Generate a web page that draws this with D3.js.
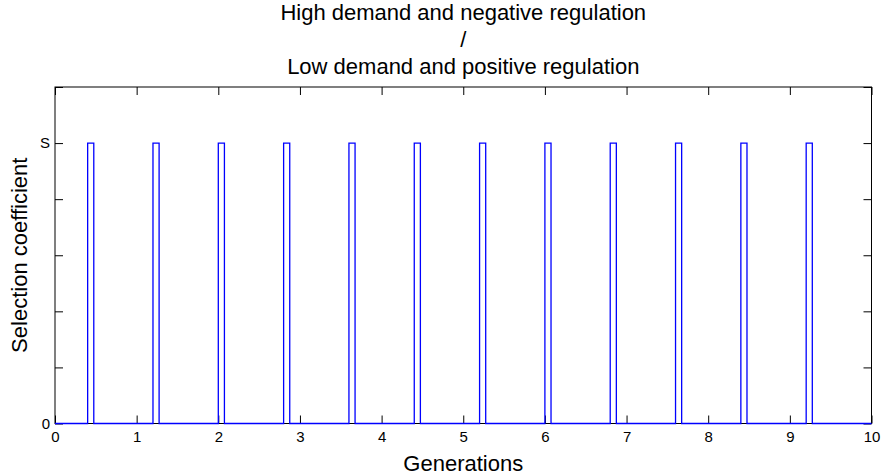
<!DOCTYPE html>
<html>
<head>
<meta charset="utf-8">
<script src="https://cdn.jsdelivr.net/npm/d3@7"></script>
<style>
  body { margin: 0; background: #fff; }
  svg { display: block; font-family: "Liberation Sans", Arial, sans-serif; }
  .axis path, .axis line { stroke: #000; }
  .axis text { font-size: 15px; fill: #000; }
</style>
</head>
<body>
<div id="chart"></div>
<script>
(function () {
  // pulse windows (generations) where selection coefficient = s
  let pulseStart = [0.40, 1.20, 2.00, 2.80, 3.60, 4.40, 5.20, 6.00, 6.80, 7.60, 8.40, 9.20];
  let pulseEnd = [0.475, 1.275, 2.075, 2.875, 3.675, 4.475, 5.275, 6.075, 6.875, 7.675, 8.475, 9.275];

  let xTicks = [0, 1, 2, 3, 4, 5, 6, 7, 8, 9, 10];
  let yTicks = [0, 0.2, 0.4, 0.6, 0.8, 1.0, 1.2];
  let yTickLabels = ['0', '', '', '', '', 'S', ''];

  let titleLines = [
    'High demand and negative regulation',
    '/',
    'Low demand and positive regulation'
  ];

  let W = 882, H = 476;
  let margin = { top: 87, right: 10.5, bottom: 52.5, left: 55 };
  let width = W - margin.left - margin.right;
  let height = H - margin.top - margin.bottom;

  let x = d3.scaleLinear().domain([0, 10]).range([0, width]);
  let y = d3.scaleLinear().domain([0, 1.2]).range([height, 0]);

  let svg = d3.select('#chart').append('svg')
    .attr('width', W)
    .attr('height', H);

  let g = svg.append('g')
    .attr('transform', `translate(${margin.left}, ${margin.top})`);

  // box
  g.append('rect')
    .attr('width', width)
    .attr('height', height)
    .attr('fill', 'none')
    .attr('stroke', '#000');

  let tickLen = 8;

  g.append('g').attr('class', 'axis')
    .attr('transform', `translate(0, ${height})`)
    .call(d3.axisBottom(x).tickValues(xTicks).tickSize(-tickLen).tickPadding(8).tickSizeOuter(0));

  g.append('g').attr('class', 'axis')
    .call(d3.axisTop(x).tickValues(xTicks).tickSize(-tickLen).tickFormat('').tickSizeOuter(0));

  g.append('g').attr('class', 'axis')
    .call(d3.axisLeft(y).tickValues(yTicks).tickSize(-tickLen).tickPadding(5).tickSizeOuter(0)
      .tickFormat((d, i) => yTickLabels[i]));

  g.append('g').attr('class', 'axis')
    .attr('transform', `translate(${width}, 0)`)
    .call(d3.axisRight(y).tickValues(yTicks).tickSize(-tickLen).tickFormat('').tickSizeOuter(0));

  g.selectAll('.axis .domain').remove();

  // step signal built from the pulse windows
  let pts = [[0, 0]];
  pulseStart.forEach((s, i) => {
    pts.push([s, 0], [s, 1], [pulseEnd[i], 1], [pulseEnd[i], 0]);
  });
  pts.push([10, 0]);

  g.append('path')
    .datum(pts)
    .attr('fill', 'none')
    .attr('stroke', '#0000ff')
    .attr('stroke-width', 1.3)
    .attr('d', d3.line().x((d) => x(d[0])).y((d) => y(d[1])));

  // title
  svg.append('g').selectAll('text')
    .data(titleLines)
    .enter()
    .append('text')
    .attr('x', margin.left + width / 2)
    .attr('y', (d, i) => 20 + i * 27)
    .attr('text-anchor', 'middle')
    .attr('font-size', '22px')
    .text((d) => d);

  svg.append('text')
    .attr('x', margin.left + width / 2)
    .attr('y', 471)
    .attr('text-anchor', 'middle')
    .attr('font-size', '22px')
    .text('Generations');

  svg.append('text')
    .attr('transform', `translate(27, ${margin.top + height / 2}) rotate(-90)`)
    .attr('text-anchor', 'middle')
    .attr('font-size', '22px')
    .text('Selection coefficient');
})();
</script>
</body>
</html>
